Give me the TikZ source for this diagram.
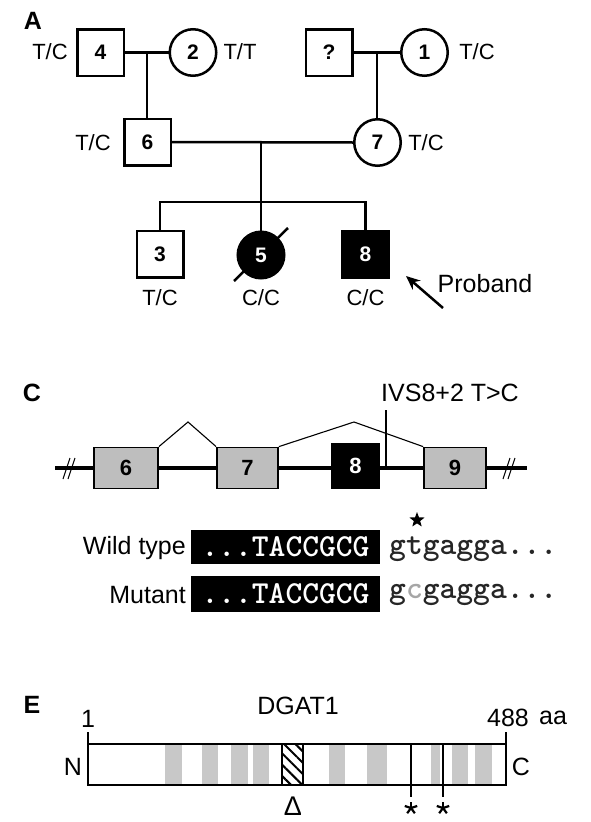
\documentclass[tikz,border=0pt]{standalone}
\usepackage{fontspec}
\setmainfont{Liberation Sans}
\usetikzlibrary{calc,patterns.meta,shapes.geometric,arrows.meta}
\definecolor{exgray}{RGB}{190,190,190}
\definecolor{bandgray}{RGB}{200,200,200}
\tikzset{
  fs/.style={font=\fontsize{#1}{#1}\selectfont},
  panel/.style={font=\fontsize{25}{25}\selectfont\bfseries},
  lbl/.style={font=\fontsize{22}{22}\selectfont, inner sep=0pt},
  male/.style={draw, line width=2.5pt, minimum size=46.5pt, inner sep=0pt, font=\fontsize{21}{21}\selectfont\bfseries},
  female/.style={circle, draw, line width=2.5pt, minimum size=46.5pt, inner sep=0pt, font=\fontsize{21}{21}\selectfont\bfseries},
  affected/.style={fill=black, text=white},
  ped/.style={line width=2.5pt},
  exon/.style={draw, line width=1.8pt, fill=exgray, minimum height=41pt, inner sep=0pt, font=\fontsize{22}{22}\selectfont\bfseries},
  splice/.style={line width=1.1pt},
  seqbox/.style={fill=black, text=white, minimum width=189pt, inner sep=0pt, font=\fontsize{32}{32}\selectfont\ttfamily\bfseries},
  seqtxt/.style={inner sep=0pt, anchor=west, font=\fontsize{32}{32}\selectfont\ttfamily\bfseries, text=black!85},
  txt/.style={font=\fontsize{25}{25}\selectfont, inner sep=0pt},
  astarm/.style={line width=2.2pt},
}
\begin{document}
\begin{tikzpicture}[x=1pt,y=-1pt]
\useasboundingbox (0,0) rectangle (590,822);
% ---------------- Panel A ----------------
% slash through deceased individual 5 (drawn first, so the filled circle hides its middle)
\coordinate (d1) at (234,281);
\coordinate (d2) at (288,228);
\draw[line width=2.5pt] (d1) -- (d2);

\node[panel] (pA) at (33,21) {A};
\node[male] (n4) at (100.5,52.5) {4};
\node[female] (n2) at (193,52.5) {2};
\node[male] (nq) at (329,52.5) {?};
\node[female] (n1) at (424.5,52.5) {1};
\node[male] (n6) at (147.5,142) {6};
\node[female] (n7) at (377.5,142.5) {7};
\node[male] (n3) at (160,254) {3};
\node[female,affected] (n5) at (261,255) {5};
\node[male,affected] (n8) at (365.5,254.5) {8};

\node[lbl] (g4) at (50,52) {T/C};
\node[lbl] (g2) at (240,52) {T/T};
\node[lbl] (g1) at (477,52) {T/C};
\node[lbl] (g6) at (93,143) {T/C};
\node[lbl] (g7) at (426,143) {T/C};
\node[lbl] (g3) at (160,298) {T/C};
\node[lbl] (g5) at (261,298) {C/C};
\node[lbl] (g8) at (365.5,298) {C/C};

\draw[ped] (n4.east) -- (n2.west);
\coordinate (m1) at ($(n4.east)!0.5!(n2.west)$);
\draw[ped] (m1) -- (m1 |- n6.north);
\draw[ped] (nq.east) -- (n1.west);
\coordinate (m2) at ($(nq.east)!0.5!(n1.west)$);
\draw[ped] (m2) -- (m2 |- n7.north);
\draw[ped] (n6.east) -- (n7.west);
\coordinate (m3) at (261,143);
\draw[ped] (m3) -- (n5.north);
\coordinate (sib) at (261,202);
\draw[ped] (n3.north) |- (sib) -| (n8.north);

\node[txt] (prob) at (485,284) {Proband};
\coordinate (pt) at (443,308);
\coordinate (ph) at (406,276);
\draw[line width=2.5pt, -{Stealth[length=14pt,width=12pt]}] (pt) -- (ph);

% ---------------- Panel C ----------------
\node[panel] (pC) at (32,393) {C};
\coordinate (gl) at (55,468);
\coordinate (gr) at (527,468);
\draw[line width=3.2pt] (gl) -- (gr);
\node[exon, minimum width=64pt] (e6) at (126,468) {6};
\node[exon, minimum width=61pt] (e7) at (247.5,468) {7};
\node[exon, minimum width=47pt, minimum height=44pt, fill=black, text=white] (e8) at (355.5,466) {8};
\node[exon, minimum width=62pt] (e9) at (455,468) {9};
\coordinate (p1) at (188,422);
\coordinate (p2) at (354,422);
\draw[splice] (e6.north east) -- (p1) -- (e7.north west);
\draw[splice] (e7.north east) -- (p2) -- (e9.north west);
\coordinate (iv1) at (386,468);
\coordinate (iv2) at (386,410);
\draw[line width=1.3pt] (iv1) -- (iv2);
\node[txt] (ivs) at (450,393) {IVS8+2 T>C};
% break marks
\draw[line width=1pt] (63,479) -- (70,458) (68,479) -- (75,458);
\draw[line width=1pt] (503,479) -- (510,458) (508,479) -- (515,458);

\node[star, star points=5, star point ratio=2.4, fill=black, minimum size=16pt, inner sep=0pt] (st) at (417,520) {};
\node[seqbox, minimum height=34pt] (wt) at (285.5,547) {...TACCGCG};
\node[seqbox, minimum height=36pt] (mt) at (285.5,594) {...TACCGCG};
\node[seqtxt] (wts) at (389,549) {gtgagga...};
\node[seqtxt] (mts) at (389,595) {g{\color{black!35}c}gagga...};
\node[txt, anchor=east] (wtl) at (186,548) {Wild type};
\node[txt, anchor=east] (mtl) at (186,595) {Mutant};

% ---------------- Panel E ----------------
\node[panel] (pE) at (32,705) {E};
\node[txt] (dg) at (298,706) {DGAT1};
\foreach \a/\b in {165/182,202/218,231/248,253/269,329/345,367/387,431/440,452/468,475/492}
  \fill[bandgray] (\a,745) rectangle (\b,784);
\fill[pattern={Lines[angle=-45,distance=8pt,line width=2pt]}] (282,744) rectangle (303,785);
\draw[line width=2pt] (282,744) rectangle (303,785);
\draw[line width=2.5pt] (88,744) rectangle (506,785);
\draw[line width=2.5pt] (88,732) -- (88,786);
\draw[line width=2.5pt] (506,732) -- (506,786);
\draw[line width=2.5pt] (411,744) -- (411,797);
\draw[line width=2.5pt] (443,744) -- (443,797);
% asterisks below the two mutation marks
\coordinate (s1) at (411,808);
\coordinate (s2) at (443,808);
\foreach \c in {s1,s2}
  \foreach \ang in {270,342,54,126,198}
    \draw[astarm] (\c) -- ++(\ang:6.5);
\node[fs=27, inner sep=0pt] (del) at (293,806) {Δ};
\node[txt] (one) at (88,719) {1};
\node[txt] (end) at (508,718) {488};
\node[txt] (aa) at (553,718) {aa};
\node[txt] (nN) at (73,767) {N};
\node[txt] (nC) at (521,767) {C};
\end{tikzpicture}
\end{document}
